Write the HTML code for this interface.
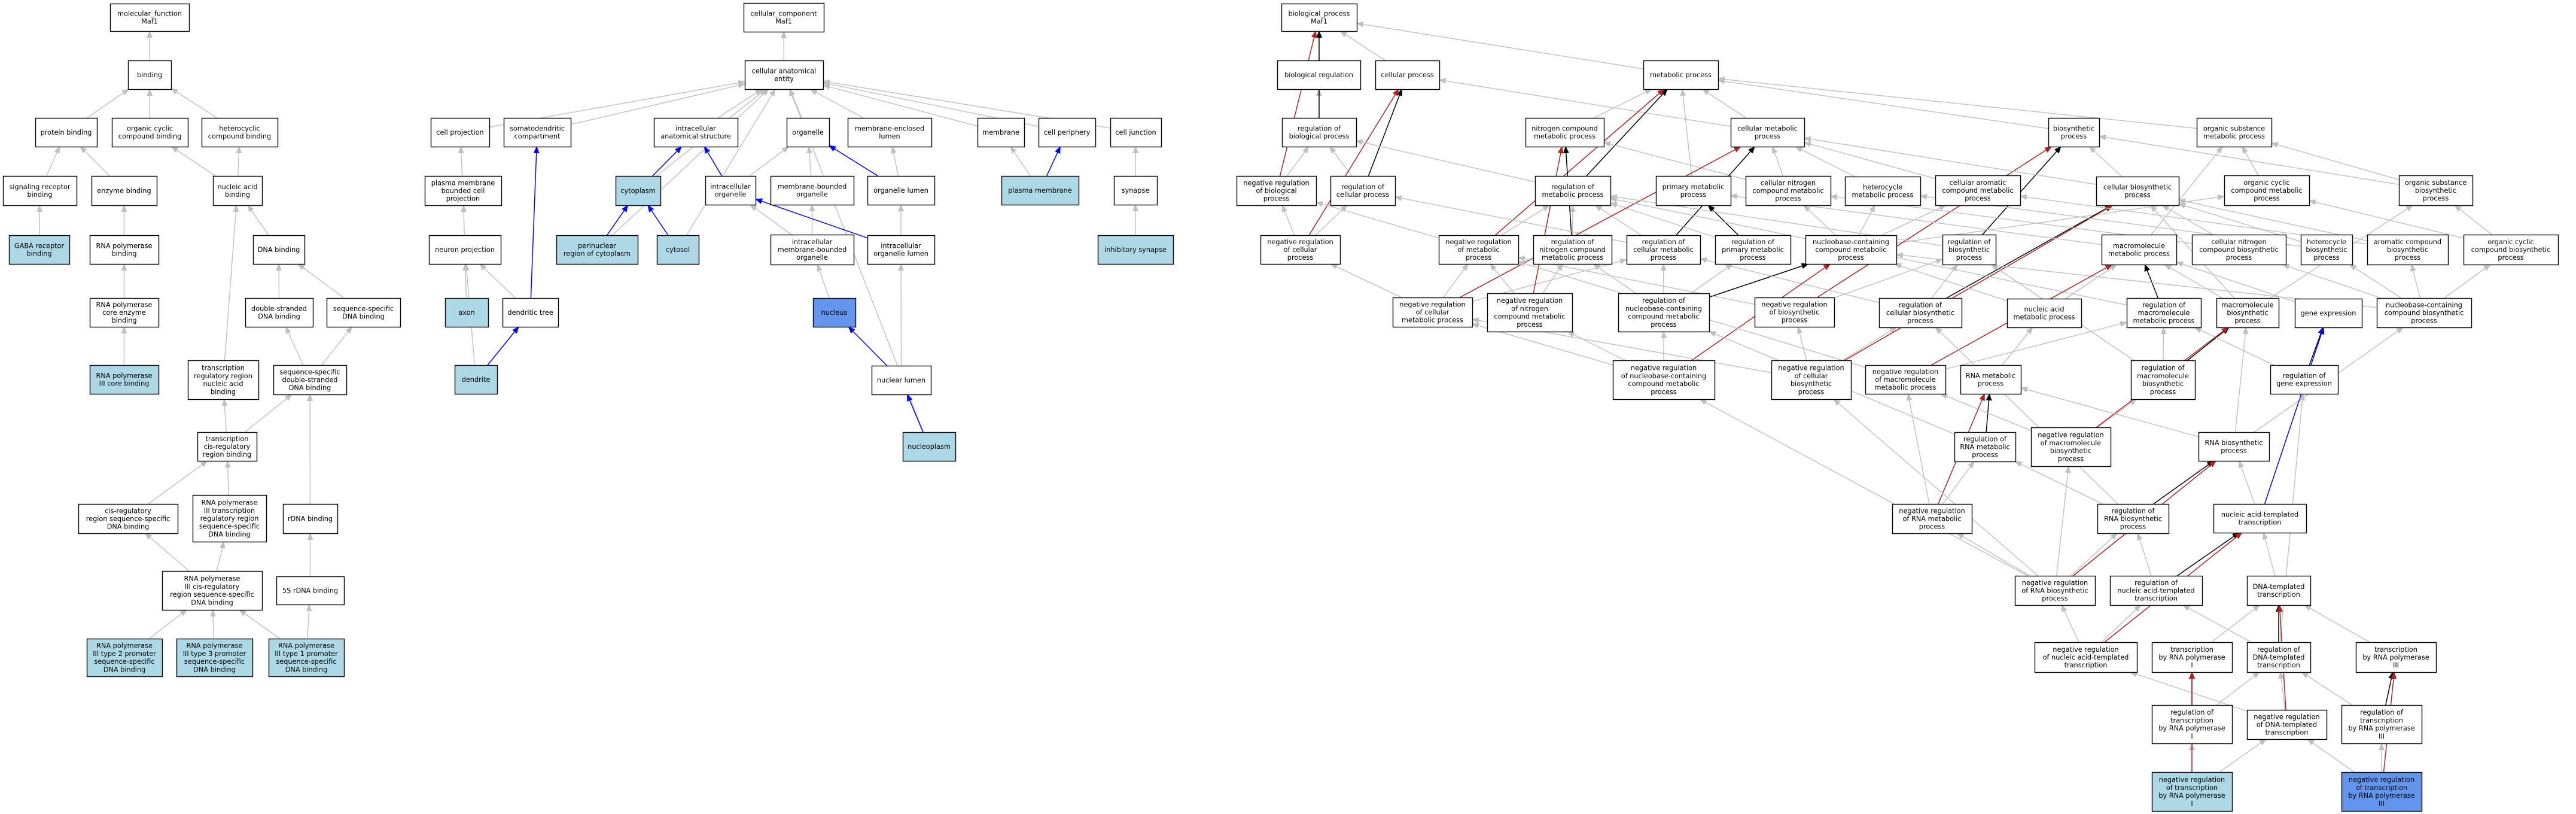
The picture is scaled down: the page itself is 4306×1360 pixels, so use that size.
<!DOCTYPE html>
<html><head><meta charset="utf-8">
<style>
html,body{margin:0;padding:0;background:#fff;width:4306px;height:1360px;overflow:hidden}
svg{display:block}
text{font-family:"DejaVu Sans","Liberation Sans",sans-serif;font-size:11.3px;fill:#000}
</style></head><body>
<svg id="s" width="4306" height="1360" xmlns="http://www.w3.org/2000/svg">
<defs>
<marker id="ag" markerWidth="12" markerHeight="10" refX="11" refY="5" orient="auto" markerUnits="userSpaceOnUse"><path d="M0,0 L12,5 L0,10 z" fill="#c0c0c0"/></marker>
<marker id="ak" markerWidth="12" markerHeight="10" refX="11" refY="5" orient="auto" markerUnits="userSpaceOnUse"><path d="M0,0 L12,5 L0,10 z" fill="#000"/></marker>
<marker id="ar" markerWidth="12" markerHeight="10" refX="11" refY="5" orient="auto" markerUnits="userSpaceOnUse"><path d="M0,0 L12,5 L0,10 z" fill="#b22222"/></marker>
<marker id="ab" markerWidth="12" markerHeight="10" refX="11" refY="5" orient="auto" markerUnits="userSpaceOnUse"><path d="M0,0 L12,5 L0,10 z" fill="#0000ff"/></marker>
</defs>
<g id="E"></g><g id="N"></g>
</svg>
<script>
var L="#add8e6",D="#6495ed";
var N={
mf:[184,6,316,52,"molecular_function|Maf1"],
bind:[214,101,286,149,"binding"],
pb:[59,197,162,245,"protein binding"],
ocb:[187,197,314,245,"organic cyclic|compound binding"],
hcb:[337,197,464,245,"heterocyclic|compound binding"],
srb:[5,294,128,343,"signaling receptor|binding"],
eb:[153,294,262,343,"enzyme binding"],
nab:[356,294,438,343,"nucleic acid|binding"],
gaba:[15,393,116,441,"GABA receptor|binding",L],
rpb:[150,393,265,441,"RNA polymerase|binding"],
dnab:[423,393,509,441,"DNA binding"],
rpc:[150,498,265,546,"RNA polymerase|core enzyme|binding"],
dsb:[410,498,523,546,"double-stranded|DNA binding"],
ssb:[546,498,669,546,"sequence-specific|DNA binding"],
r3c:[150,610,265,658,"RNA polymerase|III core binding",L],
trr:[314,602,432,667,"transcription|regulatory region|nucleic acid|binding"],
ssds:[457,610,579,659,"sequence-specific|double-stranded|DNA binding"],
tcis:[330,722,429,770,"transcription|cis-regulatory|region binding"],
cisr:[131,842,297,891,"cis-regulatory|region sequence-specific|DNA binding"],
p3trr:[322,827,445,905,"RNA polymerase|III transcription|regulatory region|sequence-specific|DNA binding"],
rdna:[473,842,564,891,"rDNA binding"],
p3cis:[271,954,438,1019,"RNA polymerase|III cis-regulatory|region sequence-specific|DNA binding"],
s5:[462,963,575,1010,"5S rDNA binding"],
t2:[145,1067,271,1130,"RNA polymerase|III type 2 promoter|sequence-specific|DNA binding",L],
t3:[295,1067,422,1130,"RNA polymerase|III type 3 promoter|sequence-specific|DNA binding",L],
t1:[449,1067,575,1130,"RNA polymerase|III type 1 promoter|sequence-specific|DNA binding",L],
cp:[720,197,818,245,"cell projection"],
sdc:[842,197,954,245,"somatodendritic|compartment"],
pmb:[710,294,838,343,"plasma membrane|bounded cell|projection"],
np:[717,393,837,441,"neuron projection"],
axon:[744,498,816,546,"axon",L],
dt:[840,498,933,546,"dendritic tree"],
dend:[760,610,831,658,"dendrite",L],
cyto:[1029,294,1104,343,"cytoplasm",L],
peri:[930,393,1066,441,"perinuclear|region of cytoplasm",L],
ccm:[1243,5,1377,53,"cellular_component|Maf1"],
cae:[1245,101,1376,149,"cellular anatomical|entity"],
ias:[1093,197,1233,245,"intracellular|anatomical structure"],
org:[1315,197,1386,245,"organelle"],
mel:[1417,197,1557,245,"membrane-enclosed|lumen"],
mem:[1634,197,1712,245,"membrane"],
cper:[1736,197,1831,245,"cell periphery"],
cj:[1856,197,1941,245,"cell junction"],
io:[1179,294,1263,342,"intracellular|organelle"],
mbo:[1288,294,1427,342,"membrane-bounded|organelle"],
ol:[1450,294,1562,342,"organelle lumen"],
pm:[1674,294,1803,342,"plasma membrane",L],
syn:[1862,294,1934,342,"synapse"],
cytosol:[1098,393,1168,441,"cytosol",L],
imbo:[1288,392,1427,442,"intracellular|membrane-bounded|organelle"],
iol:[1450,393,1562,441,"intracellular|organelle lumen"],
isyn:[1835,393,1961,441,"inhibitory synapse",L],
nuc:[1359,498,1430,546,"nucleus",D],
nl:[1457,611,1556,659,"nuclear lumen"],
nplasm:[1509,722,1597,770,"nucleoplasm",L],
bp:[2142,6,2268,52,"biological_process|Maf1"],
breg:[2135,101,2274,149,"biological regulation"],
cproc:[2299,101,2406,149,"cellular process"],
mp:[2747,101,2872,149,"metabolic process"],
rbp:[2143,197,2267,245,"regulation of|biological process"],
ncmp:[2550,197,2681,245,"nitrogen compound|metabolic process"],
cmp:[2893,197,3016,245,"cellular metabolic|process"],
nrbp:[2067,294,2200,343,"negative regulation|of biological|process"],
rcp:[2224,294,2332,343,"regulation of|cellular process"],
rmp:[2566,294,2692,343,"regulation of|metabolic process"],
pmp:[2768,294,2893,343,"primary metabolic|process"],
cncmp:[2918,294,3060,343,"cellular nitrogen|compound metabolic|process"],
hmp:[3084,295,3210,343,"heterocycle|metabolic process"],
camp:[3235,293,3377,343,"cellular aromatic|compound metabolic|process"],
bsp:[3424,197,3509,245,"biosynthetic|process"],
osmp:[3672,197,3797,245,"organic substance|metabolic process"],
cbp:[3504,295,3642,343,"cellular biosynthetic|process"],
ocmp:[3718,293,3860,343,"organic cyclic|compound metabolic|process"],
osbp:[4010,293,4133,343,"organic substance|biosynthetic|process"],
nrcp:[2107,393,2240,441,"negative regulation|of cellular|process"],
nrmp:[2405,393,2538,441,"negative regulation|of metabolic|process"],
rncmp:[2563,393,2694,441,"regulation of|nitrogen compound|metabolic process"],
rcmp:[2719,393,2842,441,"regulation of|cellular metabolic|process"],
rpmp:[2867,393,2993,441,"regulation of|primary metabolic|process"],
nbmp:[3018,393,3170,441,"nucleobase-containing|compound metabolic|process"],
rbsp:[3247,392,3336,442,"regulation of|biosynthetic|process"],
mmp:[3513,392,3638,442,"macromolecule|metabolic process"],
cnbp:[3664,392,3821,442,"cellular nitrogen|compound biosynthetic|process"],
hbp:[3846,392,3932,442,"heterocycle|biosynthetic|process"],
abp:[3957,392,4092,442,"aromatic compound|biosynthetic|process"],
ocbp:[4118,392,4276,442,"organic cyclic|compound biosynthetic|process"],
nrcmp:[2328,497,2461,546,"negative regulation|of cellular|metabolic process"],
nrncmp:[2486,490,2628,554,"negative regulation|of nitrogen|compound metabolic|process"],
rnbmp:[2705,490,2857,554,"regulation of|nucleobase-containing|compound metabolic|process"],
nrbsp:[2933,497,3066,546,"negative regulation|of biosynthetic|process"],
rcbp:[3141,498,3279,547,"regulation of|cellular biosynthetic|process"],
namp:[3355,499,3479,547,"nucleic acid|metabolic process"],
rmmp:[3555,498,3679,547,"regulation of|macromolecule|metabolic process"],
mbp:[3705,498,3809,547,"macromolecule|biosynthetic|process"],
ge:[3836,499,3948,547,"gene expression"],
nbbp:[3973,498,4131,547,"nucleobase-containing|compound biosynthetic|process"],
nrnbmp:[2696,602,2866,667,"negative regulation|of nucleobase-containing|compound metabolic|process"],
nrcbp:[2961,602,3094,667,"negative regulation|of cellular|biosynthetic|process"],
nrmmp:[3118,610,3252,658,"negative regulation|of macromolecule|metabolic process"],
rnamp:[3277,610,3378,658,"RNA metabolic|process"],
rmbp:[3562,602,3669,667,"regulation of|macromolecule|biosynthetic|process"],
rge:[3795,610,3908,658,"regulation of|gene expression"],
rrnamp:[3267,722,3369,771,"regulation of|RNA metabolic|process"],
nrmbp:[3395,714,3528,779,"negative regulation|of macromolecule|biosynthetic|process"],
rnabp:[3675,722,3793,770,"RNA biosynthetic|process"],
nrrnamp:[3163,842,3296,891,"negative regulation|of RNA metabolic|process"],
rrnabp:[3506,842,3625,891,"regulation of|RNA biosynthetic|process"],
nat:[3700,842,3855,890,"nucleic acid-templated|transcription"],
nrrnabp:[3368,962,3502,1011,"negative regulation|of RNA biosynthetic|process"],
rnat:[3527,962,3681,1011,"regulation of|nucleic acid-templated|transcription"],
dt2:[3756,962,3862,1011,"DNA-templated|transcription"],
nrnat:[3401,1073,3572,1123,"negative regulation|of nucleic acid-templated|transcription"],
t1p:[3597,1073,3731,1123,"transcription|by RNA polymerase|I"],
rdt:[3756,1073,3862,1123,"regulation of|DNA-templated|transcription"],
t3p:[3938,1073,4072,1123,"transcription|by RNA polymerase|III"],
rt1:[3597,1178,3731,1242,"regulation of|transcription|by RNA polymerase|I"],
nrdt:[3756,1186,3889,1235,"negative regulation|of DNA-templated|transcription"],
rt3:[3914,1178,4048,1242,"regulation of|transcription|by RNA polymerase|III"],
nt1:[3597,1290,3731,1355,"negative regulation|of transcription|by RNA polymerase|I",L],
nt3:[3914,1290,4048,1355,"negative regulation|of transcription|by RNA polymerase|III",D]
};
var E="bind>mf pb>bind ocb>bind hcb>bind srb>pb eb>pb nab>ocb nab>hcb gaba>srb rpb>eb dnab>nab rpc>rpb dsb>dnab ssb>dnab r3c>rpc trr>nab ssds>dsb ssds>ssb tcis>trr tcis>ssds cisr>tcis p3trr>tcis rdna>ssds p3cis>cisr p3cis>p3trr s5>rdna t2>p3cis t3>p3cis t1>p3cis t1>s5 "+
"cae>ccm cp>cae sdc>cae ias>cae org>cae mel>cae mem>cae cper>cae cj>cae cyto>cae peri>cae cytosol>cae nplasm>cae pmb>cp np>pmb axon>np dt>np dend>np dend>dt:b dt>sdc:b cyto>ias:b peri>cyto:b cytosol>cyto:b io>ias:b io>org mbo>org ol>org:b ol>mel pm>mem pm>cper:b syn>cj imbo>io imbo>mbo iol>io:b iol>ol nuc>imbo nl>nuc:b nl>iol nplasm>nl:b isyn>syn "+
"breg>bp cproc>bp mp>bp rbp>breg rbp>bp:k nrbp>bp:r nrbp>rbp rcp>rbp rcp>cproc:k nrcp>nrbp nrcp>rcp nrcp>cproc:r ncmp>mp cmp>mp cmp>cproc pmp>mp rmp>rbp rmp>mp:k osmp>mp bsp>mp cncmp>ncmp cncmp>cmp hmp>cmp camp>cmp nrmp>rmp nrmp>mp:r nrmp>nrbp rncmp>rmp rncmp>ncmp:k rcmp>rmp rcmp>cmp:k rcmp>rcp rpmp>rmp rpmp>pmp:k nbmp>cncmp nbmp>hmp nbmp>camp nbmp>ocmp nrcmp>nrmp nrcmp>rcmp nrcmp>nrcp nrcmp>cmp:r nrncmp>nrmp nrncmp>rncmp nrncmp>ncmp:r rnbmp>rncmp rnbmp>rcmp rnbmp>rpmp rnbmp>nbmp:k nrbsp>rbsp nrbsp>nrmp nrbsp>bsp:r rbsp>rmp rbsp>bsp:k rcbp>rbsp rcbp>rcmp rcbp>cbp:k nrnbmp>rnbmp nrnbmp>nrncmp nrnbmp>nrcmp nrnbmp>nbmp:r nrcbp>nrbsp nrcbp>rcbp nrcbp>cbp:r nrcbp>nrcmp cbp>bsp cbp>cmp ocmp>osmp osbp>osmp osbp>bsp mmp>osmp mmp>pmp cnbp>cncmp cnbp>cbp hbp>hmp hbp>cbp abp>camp abp>cbp ocbp>ocmp ocbp>osbp namp>nbmp namp>mmp rmmp>rmp rmmp>mmp:k mbp>mmp mbp>cbp mbp>osbp ge>mmp nbbp>nbmp nbbp>cnbp nbbp>hbp nbbp>abp nbbp>ocbp nrmmp>rmmp nrmmp>mmp:r nrmmp>nrmp rnamp>namp rmbp>rmmp rmbp>mbp:k rmbp>rbsp rge>rmmp rge>ge:k rrnamp>rnamp:k rrnamp>rnbmp nrmbp>rmbp nrmbp>nrmmp nrmbp>mbp:r rnabp>rnamp rnabp>mbp rnabp>nbbp nrrnamp>rnamp:r nrrnamp>rrnamp nrrnamp>nrmmp rrnabp>rnabp:k rrnabp>rrnamp rrnabp>rcbp nat>rnabp nat>ge:b nrrnabp>nrrnamp nrrnabp>rrnabp nrrnabp>rnabp:r nrrnabp>nrmbp nrrnabp>nrnbmp nrrnabp>nrcbp rnat>rrnabp rnat>nat:k dt2>nat nrnat>nrrnabp nrnat>rnat nrnat>nat:r t1p>dt2 rdt>dt2:k rdt>rnat rdt>rge t3p>dt2 rt1>t1p:k rt1>rdt nrdt>rdt nrdt>dt2:r nrdt>nrnat rt3>t3p:k rt3>rdt nt1>rt1 nt1>t1p:r nt1>nrdt nt3>rt3 nt3>t3p:r nt3>nrdt";
var C={g:"#c0c0c0",k:"#000",r:"#b22222",b:"#0000ff"};
var NS="http://www.w3.org/2000/svg",eg=document.getElementById("E"),ng=document.getElementById("N");
function el(t,a,p){var e=document.createElementNS(NS,t);for(var k in a)e.setAttribute(k,a[k]);p.appendChild(e);return e;}
function clip(b,cx,cy,dx,dy){// from center (cx,cy) in direction (dx,dy) to box edge
 var hw=(b[2]-b[0])/2,hh=(b[3]-b[1])/2,t=1e9;
 if(dx!=0)t=Math.min(t,hw/Math.abs(dx));if(dy!=0)t=Math.min(t,hh/Math.abs(dy));
 return [cx+dx*t,cy+dy*t];}
E.split(" ").forEach(function(s){
 var p=s.split(":"),c=p[1]||"g",ab=p[0].split(">"),a=N[ab[0]],b=N[ab[1]];if(!a||!b)return;
 var ax=(a[0]+a[2])/2,ay=(a[1]+a[3])/2,bx=(b[0]+b[2])/2,by=(b[1]+b[3])/2;
 var dx=bx-ax,dy=by-ay;
 var s1=clip(a,ax,ay,dx,dy),s2=clip(b,bx,by,-dx,-dy);
 el("line",{x1:s1[0],y1:s1[1],x2:s2[0],y2:s2[1],stroke:C[c],"stroke-width":c=="g"?1.4:1.5,"marker-end":"url(#a"+c+")"},eg);
});
for(var k in N){var b=N[k];
 el("rect",{x:b[0]+.5,y:b[1]+.5,width:b[2]-b[0],height:b[3]-b[1],fill:b[5]||"#fff",stroke:"#000","stroke-width":1.4},ng);
 var ls=b[4].split("|"),cx=(b[0]+b[2])/2,cy=(b[1]+b[3])/2,lh=13.2;
 ls.forEach(function(t,i){var tx=el("text",{x:cx,y:cy+(i-(ls.length-1)/2)*lh+4,"text-anchor":"middle"},ng);tx.textContent=t;});
}
</script>
</body></html>
